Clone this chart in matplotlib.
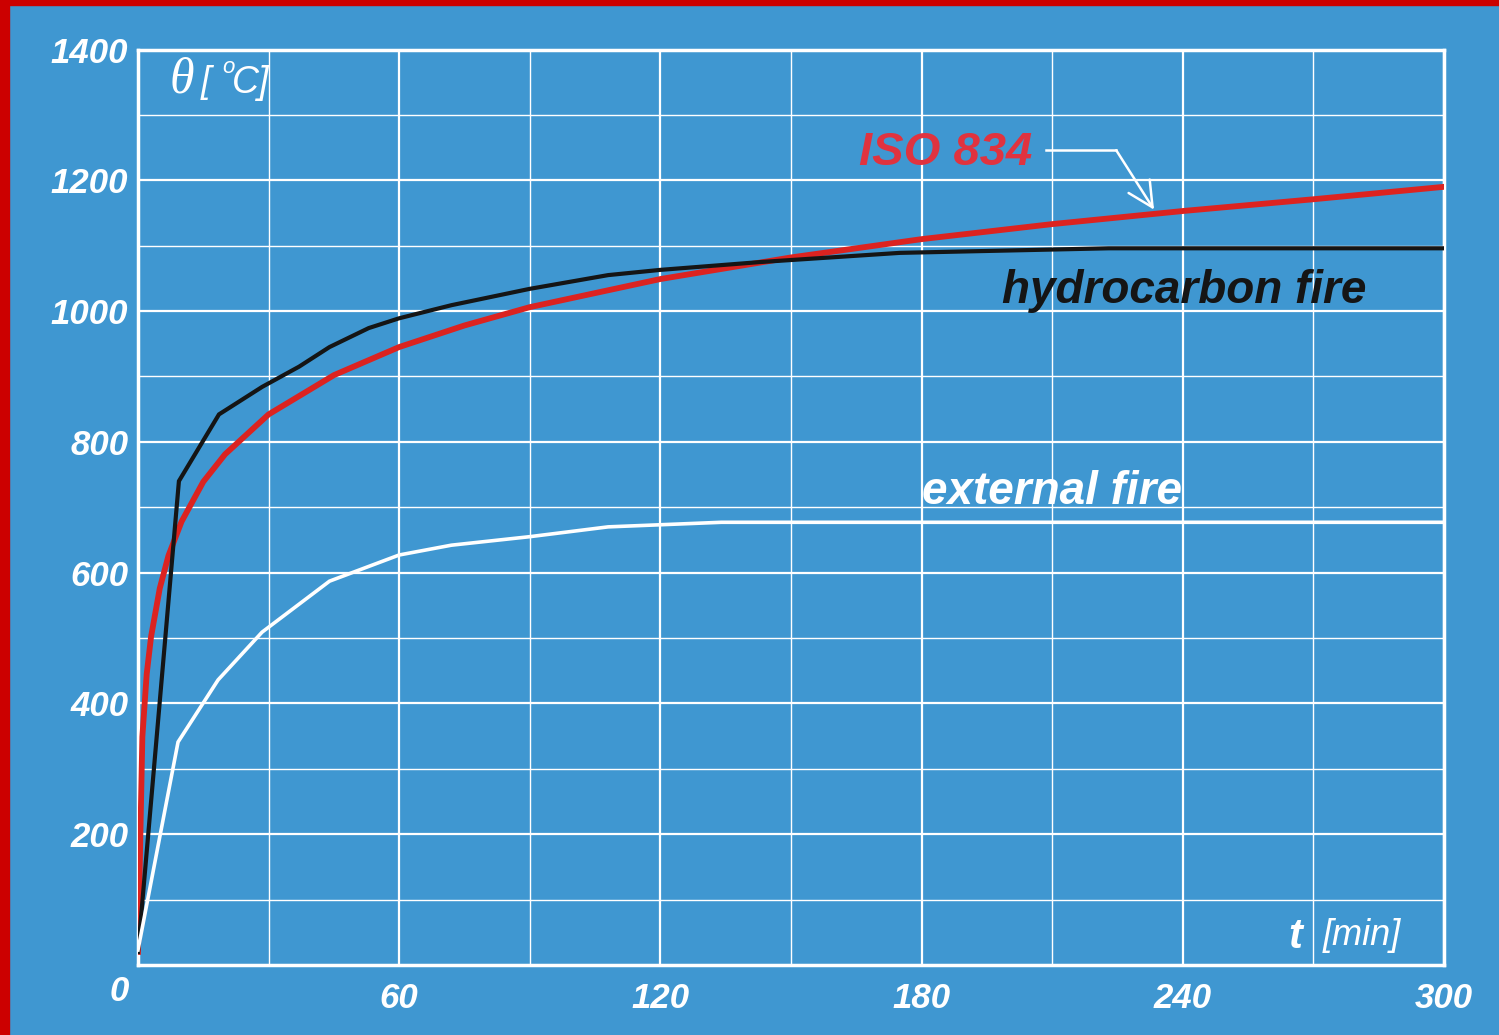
import matplotlib.pyplot as plt
from matplotlib.patches import Rectangle

# fire curves, temperature [°C] against time [min]
t_iso = [0, 1, 2, 3, 5, 7, 10, 15, 20, 30, 45, 60, 75, 90, 120, 150, 180, 210, 240, 270, 300]
iso_834 = [20, 349, 445, 502, 576, 626, 678, 739, 781, 842, 902, 945, 978, 1006, 1049, 1082, 1110, 1133, 1153, 1171, 1190]

t_hc = [0, 9.4, 18.6, 28.5, 37, 44, 53, 60, 72, 90, 108, 120, 143, 175, 223, 300]
hydrocarbon = [20, 740, 842, 884, 915, 945, 974, 989, 1009, 1034, 1055, 1063, 1075, 1089, 1096, 1096]

t_ext = [0, 9.2, 18.4, 28.5, 44, 60, 72, 90, 108, 134, 300]
external = [23, 341, 436, 509, 587, 627, 642, 655, 670, 677, 677]

x_ticks = [60, 120, 180, 240, 300]
y_ticks = [200, 400, 600, 800, 1000, 1200, 1400]

BG = '#3f97d1'
RED_LINE = '#dc2320'
RED_TEXT = '#e0333f'
BLACK = '#151515'
WHITE = 'white'

plt.rcParams['font.family'] = ['Liberation Sans', 'DejaVu Sans']

fig = plt.figure(figsize=(14.99, 10.35), dpi=100, facecolor=BG)
ax = fig.add_axes([138 / 1499, 1 - 965 / 1035, (1444 - 138) / 1499, (965 - 49.5) / 1035])
ax.set_facecolor(BG)

# red frame strips on the top and left edges
fig.patches.append(Rectangle((0, 1 - 5 / 1035), 1, 5 / 1035, transform=fig.transFigure,
                             color='#cc0000', zorder=0))
fig.patches.append(Rectangle((0, 0), 9 / 1499, 1, transform=fig.transFigure,
                             color='#cc0000', zorder=0))

ax.set_xlim(0, 300)
ax.set_ylim(0, 1400)
ax.set_xticks(x_ticks)
ax.set_xticks(range(30, 300, 60), minor=True)
ax.set_yticks(y_ticks)
ax.set_yticks(range(100, 1400, 200), minor=True)
ax.grid(which='major', color=WHITE, linewidth=1.6, zorder=1)
ax.grid(which='minor', color=WHITE, linewidth=1.0, zorder=1)
ax.set_axisbelow(True)
ax.tick_params(which='both', length=0)
ax.tick_params(axis='x', pad=12)
ax.tick_params(axis='y', pad=7)
tick_font = dict(fontsize=25, fontweight='bold', fontstyle='italic', color=WHITE)
ax.set_xticklabels([str(v) for v in x_ticks], **tick_font)
ax.set_yticklabels([str(v) for v in y_ticks], **tick_font)
ax.text(-2, -16, '0', ha='right', va='top', clip_on=False, **tick_font)
for s in ax.spines.values():
    s.set_color(WHITE)
    s.set_linewidth(2.5)

ax.plot(t_iso, iso_834, color=RED_LINE, linewidth=4.2, solid_joinstyle='round', zorder=3)
ax.plot(t_hc, hydrocarbon, color=BLACK, linewidth=3.0, solid_joinstyle='miter', zorder=4)
ax.plot(t_ext, external, color=WHITE, linewidth=2.6, solid_joinstyle='miter', zorder=5)

# curve labels
ax.text(185.6, 1242, 'ISO 834', color=RED_TEXT, fontsize=34, fontweight='bold',
        fontstyle='italic', ha='center', va='center', zorder=6)
ax.text(240.3, 1030, 'hydrocarbon fire', color=BLACK, fontsize=33, fontweight='bold',
        fontstyle='italic', ha='center', va='center', zorder=6)
ax.text(210, 724, 'external fire', color=WHITE, fontsize=33, fontweight='bold',
        fontstyle='italic', ha='center', va='center', zorder=6)

# leader from the ISO 834 label down to its curve
ax.plot([208.6, 224.7], [1246, 1246], color=WHITE, linewidth=1.8, zorder=6)
ax.annotate('', xy=(233.4, 1155), xytext=(224.7, 1246),
            arrowprops=dict(arrowstyle='->, head_length=0.5, head_width=0.25',
                            color=WHITE, lw=1.8, mutation_scale=36,
                            shrinkA=0, shrinkB=0), zorder=6)

# axis titles inside the plot area
ax.text(7.35, 1353, 'θ', family='Liberation Serif', fontsize=36, fontstyle='italic',
        color=WHITE, ha='left', va='center')
ax.text(14.4, 1349, '[', fontsize=26, fontstyle='italic', color=WHITE,
        ha='left', va='center')
ax.text(19.3, 1372, 'o', fontsize=16, fontstyle='italic', color=WHITE,
        ha='left', va='center')
ax.text(21.6, 1349, 'C]', fontsize=27, fontstyle='italic', color=WHITE,
        ha='left', va='center')
ax.text(267.4, 43, 't', fontsize=30, fontweight='bold', fontstyle='italic', color=WHITE,
        ha='right', va='center')
ax.text(272.2, 45, '[min]', fontsize=26, fontstyle='italic', color=WHITE,
        ha='left', va='center')

fig.savefig('out.png', dpi=100, facecolor=BG)
